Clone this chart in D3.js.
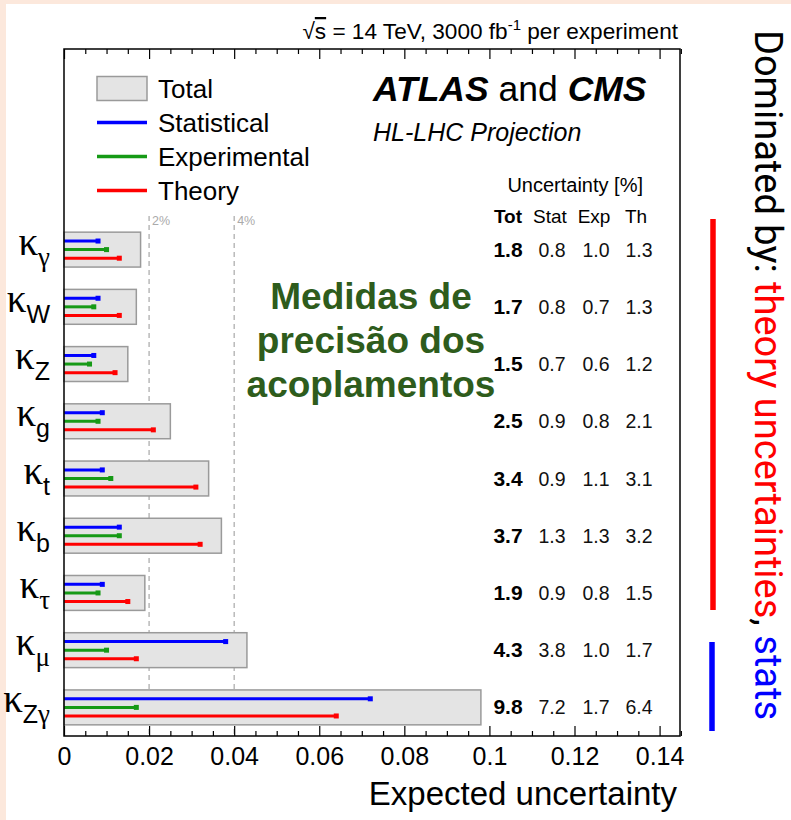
<!DOCTYPE html>
<html>
<head>
<meta charset="utf-8">
<script src="https://cdn.jsdelivr.net/npm/d3@7"></script>
<style>
  html, body { margin: 0; padding: 0; background: #fce8dc; }
  svg { display: block; }
</style>
</head>
<body>
<svg id="chart" width="791" height="820"></svg>
<script>
// Coupling modifiers (subscript of kappa), top to bottom
const couplings = ["γ", "W", "Z", "g", "t", "b", "τ", "μ", "Zγ"];
// Expected uncertainties in percent
const totalPct = [1.8, 1.7, 1.5, 2.5, 3.4, 3.7, 1.9, 4.3, 9.8];
const statPct  = [0.8, 0.8, 0.7, 0.9, 0.9, 1.3, 0.9, 3.8, 7.2];
const expPct   = [1.0, 0.7, 0.6, 0.8, 1.1, 1.3, 0.8, 1.0, 1.7];
const thPct    = [1.3, 1.3, 1.2, 2.1, 3.1, 3.2, 1.5, 1.7, 6.4];
// Axis ticks
const xTicks = [0, 0.02, 0.04, 0.06, 0.08, 0.1, 0.12, 0.14];
const xTickLabels = ["0", "0.02", "0.04", "0.06", "0.08", "0.1", "0.12", "0.14"];
const refLines = [0.02, 0.04];
const refLabels = ["2%", "4%"];
// Legend entries
const legendNames = ["Total", "Statistical", "Experimental", "Theory"];

const COL = { stat: "#0000ff", exp: "#169a16", th: "#ff0000" };
const SANS = "'Liberation Sans', Arial, Helvetica, sans-serif";
const SERIF = "'Liberation Serif', 'Times New Roman', serif";

const svg = d3.select("#chart");
svg.append("rect").attr("x", 6).attr("y", 4).attr("width", 785).attr("height", 816).attr("fill", "#ffffff");

const frame = { left: 64, right: 680, top: 49, bottom: 736 };
const x = d3.scaleLinear().domain([0, 0.1448]).range([frame.left, frame.right]);
const y = d3.scaleBand().domain(couplings).range([221, frame.bottom]);
const step = y.step();
const rowC = c => y(c) + step / 2;

const rows = couplings.map((c, i) => ({
  c, tot: totalPct[i], stat: statPct[i], exp: expPct[i], th: thPct[i]
}));

// Reference lines at 2% and 4%
refLines.forEach((v, i) => {
  svg.append("line")
    .attr("x1", x(v)).attr("x2", x(v))
    .attr("y1", 216).attr("y2", frame.bottom)
    .attr("stroke", "#a8a8a8").attr("stroke-width", 1.2)
    .attr("stroke-dasharray", "5,4");
  svg.append("text")
    .attr("x", x(v) + 3).attr("y", 225)
    .attr("font-family", SANS).attr("font-size", 12.5)
    .attr("fill", "#aaaaaa").text(refLabels[i]);
});

// Total uncertainty boxes
const boxH = step * 0.61;
svg.append("g").selectAll("rect").data(rows).join("rect")
  .attr("x", x(0)).attr("y", d => rowC(d.c) - boxH / 2)
  .attr("width", d => x(d.tot / 100) - x(0)).attr("height", boxH)
  .attr("fill", "#e4e4e4").attr("stroke", "#9a9a9a").attr("stroke-width", 1.5);

// Component lines with square end markers
const comps = [
  { key: "stat", off: -step * 0.15, color: COL.stat },
  { key: "exp",  off: 0,            color: COL.exp },
  { key: "th",   off:  step * 0.15, color: COL.th }
];
comps.forEach(cp => {
  const g = svg.append("g");
  g.selectAll("line").data(rows).join("line")
    .attr("x1", x(0)).attr("x2", d => x(d[cp.key] / 100))
    .attr("y1", d => rowC(d.c) + cp.off).attr("y2", d => rowC(d.c) + cp.off)
    .attr("stroke", cp.color).attr("stroke-width", 3);
  g.selectAll("rect").data(rows).join("rect")
    .attr("x", d => x(d[cp.key] / 100) - 2.5).attr("y", d => rowC(d.c) + cp.off - 2.5)
    .attr("width", 5).attr("height", 5).attr("fill", cp.color);
});

// Frame
svg.append("rect")
  .attr("x", frame.left).attr("y", frame.top)
  .attr("width", frame.right - frame.left).attr("height", frame.bottom - frame.top)
  .attr("fill", "none").attr("stroke", "#000").attr("stroke-width", 1.5);

// Axes: major and minor ticks pointing inward
const minorTicks = d3.range(0, 0.1451, 0.005).filter(v => !xTicks.some(t => Math.abs(t - v) < 1e-9));
const bottomAxis = d3.axisBottom(x).tickValues(xTicks)
  .tickFormat((d, i) => xTickLabels[i]).tickSize(-10).tickPadding(11).tickSizeOuter(0);
const gB = svg.append("g").attr("transform", `translate(0,${frame.bottom})`).call(bottomAxis);
gB.select(".domain").remove();
gB.selectAll("text").attr("font-family", SANS).attr("font-size", 25).attr("fill", "#000");
gB.selectAll("line").attr("stroke-width", 1.2);
const gBm = svg.append("g").attr("transform", `translate(0,${frame.bottom})`)
  .call(d3.axisBottom(x).tickValues(minorTicks).tickSize(-5).tickFormat(""));
gBm.select(".domain").remove();
gBm.selectAll("line").attr("stroke-width", 1.2);

const gT = svg.append("g").attr("transform", `translate(0,${frame.top})`)
  .call(d3.axisTop(x).tickValues(xTicks).tickSize(-10).tickFormat(""));
gT.select(".domain").remove();
gT.selectAll("line").attr("stroke-width", 1.2);
const gTm = svg.append("g").attr("transform", `translate(0,${frame.top})`)
  .call(d3.axisTop(x).tickValues(minorTicks).tickSize(-5).tickFormat(""));
gTm.select(".domain").remove();
gTm.selectAll("line").attr("stroke-width", 1.2);

svg.append("text")
  .attr("x", 677).attr("y", 805).attr("text-anchor", "end")
  .attr("font-family", SANS).attr("font-size", 33).text("Expected uncertainty");

// Kappa labels on the left
const greek = /[α-ωΑ-Ω]/;
rows.forEach(d => {
  const t = svg.append("text")
    .attr("x", 50).attr("y", rowC(d.c) + 5).attr("text-anchor", "end");
  t.append("tspan").attr("font-family", SERIF).attr("font-size", 39).text("κ");
  [...d.c].forEach((ch, j) => {
    const s = t.append("tspan")
      .attr("font-family", greek.test(ch) ? SERIF : SANS)
      .attr("font-size", greek.test(ch) ? 27 : 25)
      .text(ch);
    if (j === 0) s.attr("dy", 11);
  });
});

// Uncertainty table
const colX = { tot: 508, stat: 552, exp: 596, th: 639 };
svg.append("text").attr("x", 643).attr("y", 192).attr("text-anchor", "end")
  .attr("font-family", SANS).attr("font-size", 20).text("Uncertainty [%]");
const headers = [["Tot", colX.tot, "bold"], ["Stat", colX.stat - 2, "normal"], ["Exp", colX.exp - 2, "normal"], ["Th", colX.th - 3, "normal"]];
headers.forEach(([h, hx, w]) => {
  svg.append("text").attr("x", hx).attr("y", 223).attr("text-anchor", "middle")
    .attr("font-family", SANS).attr("font-size", 19).attr("font-weight", w).text(h);
});
rows.forEach(d => {
  const yy = rowC(d.c) + 7;
  svg.append("text").attr("x", colX.tot).attr("y", yy).attr("text-anchor", "middle")
    .attr("font-family", SANS).attr("font-size", 21).attr("font-weight", "bold").text(d.tot.toFixed(1));
  ["stat", "exp", "th"].forEach(k => {
    svg.append("text").attr("x", colX[k]).attr("y", yy).attr("text-anchor", "middle")
      .attr("font-family", SANS).attr("font-size", 19.5).attr("fill", "#111").text(d[k].toFixed(1));
  });
});

// Legend
const legY = [88.5, 122.5, 156.5, 190.5];
svg.append("rect").attr("x", 97).attr("y", legY[0] - 12).attr("width", 50).attr("height", 24)
  .attr("fill", "#e4e4e4").attr("stroke", "#9a9a9a").attr("stroke-width", 1.5);
[COL.stat, COL.exp, COL.th].forEach((c, i) => {
  svg.append("line").attr("x1", 97).attr("x2", 147)
    .attr("y1", legY[i + 1]).attr("y2", legY[i + 1])
    .attr("stroke", c).attr("stroke-width", 3.5);
});
legendNames.forEach((n, i) => {
  svg.append("text").attr("x", 158).attr("y", legY[i] + 9)
    .attr("font-family", SANS).attr("font-size", 26).text(n);
});

// Experiment labels
const exLab = svg.append("text").attr("x", 373).attr("y", 101)
  .attr("font-family", SANS).attr("font-size", 35.5);
exLab.append("tspan").attr("font-weight", "bold").attr("font-style", "italic").text("ATLAS");
exLab.append("tspan").text(" and ");
exLab.append("tspan").attr("font-weight", "bold").attr("font-style", "italic").text("CMS");
svg.append("text").attr("x", 373).attr("y", 141)
  .attr("font-family", SANS).attr("font-size", 25).attr("font-style", "italic").text("HL-LHC Projection");

const energyLabel = svg.append("text").attr("x", 678).attr("y", 39).attr("text-anchor", "end")
  .attr("font-family", SANS).attr("font-size", 22.6);
energyLabel.append("tspan").text("√");
energyLabel.append("tspan").style("text-decoration", "overline").text("s");
energyLabel.append("tspan").text(" = 14 TeV, 3000 fb");
energyLabel.append("tspan").attr("font-size", 15).attr("dy", -9).text("-1");
energyLabel.append("tspan").attr("dy", 9).text(" per experiment");

// Overlay caption
["Medidas de", "precisão dos", "acoplamentos"].forEach((s, i) => {
  svg.append("text").attr("x", 371).attr("y", 309 + i * 44).attr("text-anchor", "middle")
    .attr("font-family", SANS).attr("font-size", 37).attr("font-weight", "bold")
    .attr("fill", "#2e5c1c").text(s);
});

// Side annotation: which source dominates
svg.append("line").attr("x1", 713).attr("x2", 713).attr("y1", 219).attr("y2", 610)
  .attr("stroke", "#ff0000").attr("stroke-width", 5.5);
svg.append("line").attr("x1", 712).attr("x2", 712).attr("y1", 642).attr("y2", 731)
  .attr("stroke", "#0000ff").attr("stroke-width", 5.5);
const side = svg.append("text")
  .attr("transform", "translate(755,30) rotate(90)")
  .attr("font-family", "Roboto, 'Noto Sans', sans-serif").attr("font-size", 38);
side.append("tspan").attr("fill", "#000").text("Dominated by: ");
side.append("tspan").attr("fill", "#ff0000").text("theory uncertainties");
side.append("tspan").attr("fill", "#000").text(", ");
side.append("tspan").attr("fill", "#0000ff").text("stats");
</script>
</body>
</html>
